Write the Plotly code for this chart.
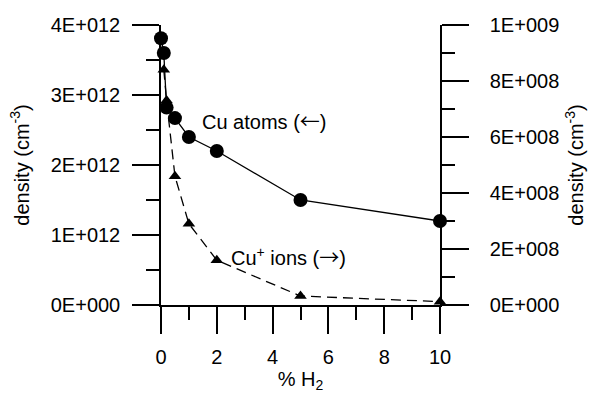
import plotly.graph_objects as go

# % H2 in the gas mixture
h2_atoms = [0, 0.1, 0.2, 0.5, 1, 2, 5, 10]
cu_atoms = [3.81e12, 3.6e12, 2.82e12, 2.67e12, 2.4e12, 2.2e12, 1.5e12, 1.2e12]

h2_ions = [0.1, 0.2, 0.5, 1, 2, 5, 10]
cu_ions = [8.4e8, 7.3e8, 4.6e8, 2.9e8, 1.6e8, 3.2e7, 1.2e7]

x_ticks = [0, 2, 4, 6, 8, 10]
y1_ticks = [0, 1e12, 2e12, 3e12, 4e12]
y1_labels = ["0E+000", "1E+012", "2E+012", "3E+012", "4E+012"]
y2_ticks = [0, 2e8, 4e8, 6e8, 8e8, 1e9]
y2_labels = ["0E+000", "2E+008", "4E+008", "6E+008", "8E+008", "1E+009"]

FONT = "Liberation Sans, Arial, sans-serif"
FS = 20
ARROW = '<span style="font-family:Noto Sans CJK SC">{}</span>'

fig = go.Figure()

fig.add_trace(go.Scatter(
    x=h2_atoms, y=cu_atoms, mode="lines+markers",
    line=dict(color="black", width=1.3),
    marker=dict(symbol="circle", size=14, color="black"),
    cliponaxis=False, showlegend=False,
))

fig.add_trace(go.Scatter(
    x=h2_ions, y=cu_ions, mode="lines+markers", yaxis="y2",
    line=dict(color="black", width=1.3, dash="10px,6px"),
    marker=dict(symbol="triangle-up", size=11, color="black"),
    cliponaxis=False, showlegend=False,
))

axis_common = dict(
    showgrid=False, zeroline=False, showline=True, automargin=False,
    linecolor="black", linewidth=1.5,
    ticks="outside", ticklen=27, tickwidth=1.5, tickcolor="black",
    tickfont=dict(family=FONT, size=FS, color="black"),
)

fig.update_layout(
    width=593, height=394,
    margin=dict(l=161, r=153, t=25, b=89),
    paper_bgcolor="white", plot_bgcolor="white",
    font=dict(family=FONT, size=FS, color="black"),
    xaxis=dict(
        range=[0, 10], tickvals=x_ticks, ticklabelstandoff=6,
        minor=dict(dtick=1, ticklen=13, tickwidth=1.5, tickcolor="black", ticks="outside"),
        title=dict(text="% H<sub>2</sub>", font=dict(family=FONT, size=FS), standoff=3),
        **axis_common,
    ),
    yaxis=dict(
        range=[0, 4e12], tickvals=y1_ticks, ticktext=y1_labels, ticklabelstandoff=8,
        minor=dict(dtick=0.5e12, ticklen=13, tickwidth=1.5, tickcolor="black", ticks="outside"),
        title=dict(text="density (cm<sup>-3</sup>)", font=dict(family=FONT, size=FS), standoff=16),
        **axis_common,
    ),
    yaxis2=dict(
        range=[0, 1e9], tickvals=y2_ticks, ticktext=y2_labels, ticklabelstandoff=17,
        overlaying="y", side="right",
        minor=dict(dtick=1e8, ticklen=13, tickwidth=1.5, tickcolor="black", ticks="outside"),
        title=dict(text="density (cm<sup>-3</sup>)", font=dict(family=FONT, size=FS), standoff=11),
        **axis_common,
    ),
    annotations=[
        dict(x=1.4, y=2.63e12, xref="x", yref="y",
             text="Cu atoms (" + ARROW.format("\u2190") + ")",
             showarrow=False, xanchor="left", yanchor="middle",
             font=dict(family=FONT, size=FS, color="black")),
        dict(x=2.45, y=1.75e8, xref="x", yref="y2",
             text="Cu<sup>+</sup> ions (" + ARROW.format("\u2192") + ")",
             showarrow=False, xanchor="left", yanchor="middle",
             font=dict(family=FONT, size=FS, color="black")),
    ],
)

fig.write_html("out.html")
